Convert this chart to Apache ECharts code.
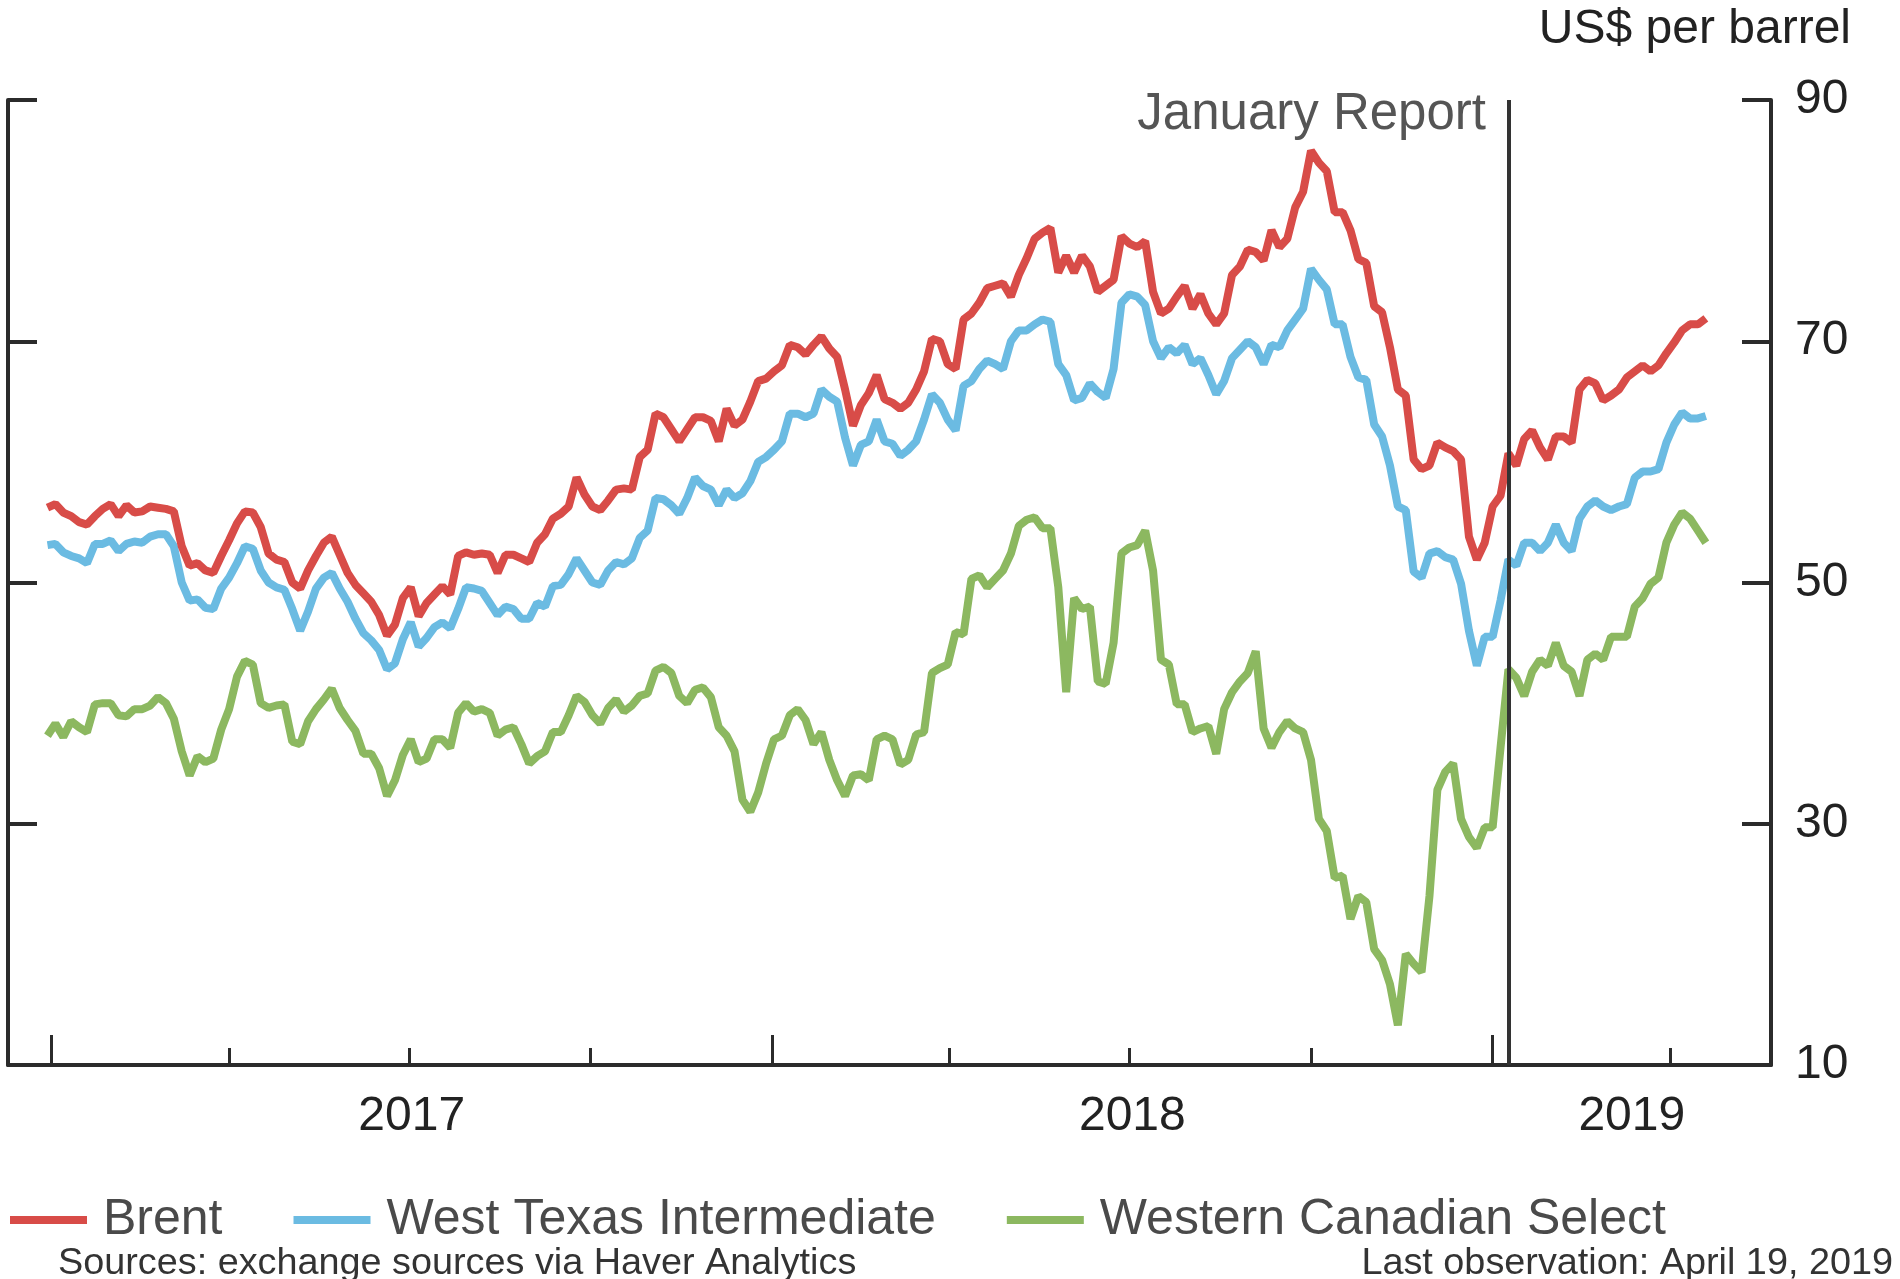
<!DOCTYPE html>
<html>
<head>
<meta charset="utf-8">
<script src="https://cdn.jsdelivr.net/npm/echarts@6/dist/echarts.min.js"></script>
<style>
html,body{margin:0;padding:0;background:#ffffff;}
#chart{width:1900px;height:1279px;}
</style>
</head>
<body>
<div id="chart"></div>
<script>
// ---------------- data ----------------
const seriesNames = ['Brent', 'West Texas Intermediate', 'Western Canadian Select'];
// observations sampled every 4 days, first one on 2016-12-30
const firstDate = '2016-12-30';
const stepDays = 4;

const brent = [
56.2,56.5,55.8,55.5,55.0,54.8,55.5,56.1,56.5,55.5,
56.4,55.8,55.9,56.3,56.2,56.1,55.9,53.0,51.4,51.6,
51.0,50.8,52.2,53.5,54.9,55.9,55.8,54.6,52.4,51.9,
51.7,50.0,49.5,51.0,52.2,53.3,53.8,52.3,50.8,49.8,
49.1,48.4,47.3,45.6,46.5,48.7,49.6,47.2,48.3,49.0,
49.7,49.0,52.2,52.5,
52.3,52.4,52.3,50.8,52.3,52.3,52.0,51.7,53.3,54.0,
55.3,55.7,56.3,58.7,57.3,56.3,56.0,56.8,57.7,57.8,
57.7,60.4,61.0,64.0,63.7,62.7,61.7,62.7,63.7,63.7,
63.4,61.7,64.4,63.0,63.5,65.0,66.7,66.9,67.5,68.0,
69.7,69.5,68.9,69.7,70.4,69.4,68.7,66.0,63.0,64.7,
65.7,67.2,65.2,64.9,
64.4,64.9,66.0,67.5,70.2,70.0,68.1,67.7,71.8,72.3,
73.2,74.4,74.6,74.8,73.7,75.5,76.9,78.5,79.0,79.4,
75.7,77.1,75.7,77.1,76.2,74.1,74.6,75.1,78.7,78.1,
77.8,78.3,74.1,72.3,72.7,73.7,74.6,72.7,73.9,72.3,
71.4,72.3,75.5,76.2,77.6,77.4,76.7,79.2,77.8,78.5,
81.1,82.4,85.8,
84.8,84.1,80.7,80.7,79.2,76.8,76.5,72.9,72.4,69.5,
66.0,65.5,60.2,59.4,59.7,61.6,61.2,60.9,60.2,53.8,
51.9,53.3,56.3,57.2,60.7,59.7,61.9,62.6,61.2,60.2,
62.1,62.1,61.6,66.0,66.8,66.5,65.1,65.5,66.0,67.0,
67.5,68.0,67.5,68.0,69.0,69.9,70.9,71.4,71.4,71.9
];

const wti = [
53.1,53.2,52.5,52.2,52.0,51.6,53.2,53.2,53.5,52.6,
53.2,53.4,53.3,53.8,54.0,54.0,53.0,50.0,48.5,48.6,
47.9,47.8,49.5,50.4,51.6,53.0,52.8,51.0,50.0,49.6,
49.4,47.8,46.0,47.6,49.5,50.4,50.8,49.5,48.4,47.0,
45.8,45.2,44.4,42.8,43.3,45.3,46.7,44.7,45.4,46.3,
46.7,46.2,47.8,49.6,
49.5,49.3,48.3,47.3,48.0,47.8,47.0,47.0,48.3,48.0,
49.7,49.8,50.7,52.0,51.0,50.0,49.8,51.0,51.7,51.5,
52.0,53.7,54.3,57.0,56.9,56.4,55.7,57.0,58.7,58.0,
57.7,56.4,57.7,57.0,57.4,58.4,60.0,60.4,61.0,61.7,
64.0,64.0,63.7,64.0,66.0,65.4,65.0,62.0,59.7,61.4,
61.7,63.5,61.7,61.5,
60.5,61.0,61.7,63.5,65.6,64.9,63.5,62.6,66.3,66.7,
67.7,68.4,68.1,67.7,70.0,70.9,70.9,71.4,71.8,71.6,
68.1,67.2,65.1,65.3,66.5,65.8,65.3,67.7,73.2,73.9,
73.7,73.0,70.0,68.6,69.5,69.0,69.7,68.1,68.6,67.2,
65.6,66.7,68.6,69.3,70.0,69.5,68.1,69.7,69.5,70.9,
71.8,72.7,76.0,
75.1,74.3,71.4,71.4,68.7,67.0,66.8,63.1,62.1,59.7,
56.3,56.0,50.9,50.4,52.4,52.6,52.1,51.9,49.9,46.0,
43.1,45.5,45.5,48.5,51.9,51.4,53.3,53.3,52.6,53.3,
54.8,53.3,52.6,55.3,56.3,56.8,56.3,56.0,56.3,56.5,
58.7,59.2,59.2,59.4,61.6,63.1,64.1,63.6,63.6,63.8
];

const wcs = [
37.3,38.3,37.2,38.5,38.0,37.6,39.9,40.0,40.0,39.0,
38.9,39.5,39.5,39.8,40.5,40.0,38.7,36.0,34.0,35.6,
35.1,35.4,37.8,39.5,42.2,43.5,43.2,40.0,39.6,39.8,
39.9,36.8,36.6,38.5,39.5,40.3,41.2,39.6,38.6,37.7,
35.8,35.8,34.6,32.3,33.6,35.7,37.0,35.1,35.4,37.0,
37.0,36.3,39.2,40.0,
39.3,39.5,39.2,37.3,37.8,38.0,36.6,35.0,35.6,36.0,
37.6,37.6,39.0,40.6,40.1,39.0,38.3,39.6,40.3,39.3,
39.8,40.6,40.8,42.7,43.0,42.5,40.6,40.0,41.1,41.3,
40.5,38.0,37.3,36.0,32.0,31.0,32.6,35.0,37.0,37.3,
39.0,39.5,38.6,36.6,37.6,35.3,33.6,32.3,34.0,34.1,
33.6,37.0,37.3,37.0,
34.9,35.3,37.4,37.6,42.5,42.9,43.2,45.9,45.7,50.3,
50.6,49.6,50.3,51.0,52.4,54.7,55.2,55.4,54.5,54.5,
49.6,40.9,48.7,47.8,48.0,41.8,41.6,45.0,52.4,52.9,
53.1,54.3,51.0,43.6,43.2,39.9,39.9,37.6,37.9,38.1,
35.8,39.5,40.9,41.8,42.5,44.3,37.9,36.3,37.6,38.5,
37.9,37.6,35.3,
30.4,29.4,25.5,25.7,22.1,24.0,23.5,19.6,18.7,16.7,
13.3,19.2,18.4,17.7,24.0,32.8,34.3,35.0,30.4,28.9,
28.0,29.7,29.7,36.3,42.8,42.1,40.6,42.6,43.6,43.1,
45.0,43.1,42.6,40.6,43.6,44.1,43.6,45.5,45.5,45.5,
48.0,48.7,49.9,50.4,53.3,54.8,55.8,55.3,54.3,53.3
];

const yMin = 10, yMax = 90, yStep = 20;
const quarterTicks = ['2017-01-01','2017-04-01','2017-07-01','2017-10-01','2018-01-01',
                      '2018-04-01','2018-07-01','2018-10-01','2019-01-01','2019-04-01'];
const yearTicks = ['2017-01-01','2018-01-01','2019-01-01'];
const yearLabels = [2017, 2018, 2019];
const axisStart = '2016-12-10';
const axisEnd = '2019-05-22';
const reportDate = '2019-01-09';
const reportLabel = 'January Report';
const unitLabel = 'US$ per barrel';
const sourceNote = 'Sources: exchange sources via Haver Analytics';
const lastObsNote = 'Last observation: April 19, 2019';

// ---------------- helpers ----------------
const DAY = 86400000;
function ts(s) { return Date.UTC(+s.slice(0,4), +s.slice(5,7) - 1, +s.slice(8,10)); }
const t0 = ts(firstDate);
function pairs(vals) { return vals.map((v, i) => [t0 + i * stepDays * DAY, v]); }

const xMin = ts(axisStart), xMax = ts(axisEnd);
const yearLabelPos = yearLabels.map(y => {
  const a = Math.max(Date.UTC(y, 0, 1), xMin);
  const b = Math.min(Date.UTC(y + 1, 0, 1), xMax);
  return (a + b) / 2;
});

const FONT = '"Liberation Sans", Arial, Helvetica, sans-serif';
const colors = ['#d84c48', '#6bbbe2', '#8cb860'];
const axisColor = '#2b2b2b';

const chart = echarts.init(document.getElementById('chart'), null, {renderer: 'canvas'});

const option = {
  animation: false,
  backgroundColor: '#ffffff',
  color: colors,
  grid: {left: 8, right: 129, top: 100, bottom: 214, containLabel: false},
  xAxis: [
    {
      type: 'value', min: xMin, max: xMax, position: 'bottom', scale: true,
      axisLine: {show: true, onZero: false, lineStyle: {color: axisColor, width: 4}},
      axisTick: {show: true, inside: true, length: 17, lineStyle: {color: axisColor, width: 3},
                 customValues: quarterTicks.map(ts)},
      axisLabel: {show: true, customValues: yearLabelPos, margin: 28,
                  formatter: v => String(new Date(v).getUTCFullYear()),
                  fontFamily: FONT, fontSize: 48, color: '#222'},
      splitLine: {show: false}
    },
    {
      type: 'value', min: xMin, max: xMax, position: 'bottom', offset: 0, scale: true,
      axisLine: {show: false, onZero: false},
      axisTick: {show: true, inside: true, length: 30, lineStyle: {color: axisColor, width: 3},
                 customValues: yearTicks.map(ts)},
      axisLabel: {show: false},
      splitLine: {show: false}
    }
  ],
  yAxis: [
    {
      type: 'value', position: 'right', min: yMin, max: yMax, interval: yStep,
      axisLine: {show: true, lineStyle: {color: axisColor, width: 4}},
      axisTick: {show: true, inside: true, length: 29, lineStyle: {color: axisColor, width: 4}},
      axisLabel: {show: true, margin: 24, fontFamily: FONT, fontSize: 48, color: '#222'},
      splitLine: {show: false}
    },
    {
      type: 'value', position: 'left', min: yMin, max: yMax, interval: yStep,
      axisLine: {show: true, lineStyle: {color: axisColor, width: 4}},
      axisTick: {show: true, inside: true, length: 29, lineStyle: {color: axisColor, width: 4}},
      axisLabel: {show: false},
      splitLine: {show: false}
    }
  ],
  legend: {
    show: true, left: 10, top: 1195, padding: 0,
    icon: 'rect', itemWidth: 77, itemHeight: 8, itemGap: 71,
    data: seriesNames,
    textStyle: {fontFamily: FONT, fontSize: 50, color: '#4a4a4a', padding: [0, 0, 0, 11]}
  },
  series: [
    {name: seriesNames[0], type: 'line', data: pairs(brent), showSymbol: false, symbol: 'none',
     xAxisIndex: 0, yAxisIndex: 0, z: 3,
     lineStyle: {width: 8, color: colors[0]}, itemStyle: {color: colors[0]}},
    {name: seriesNames[1], type: 'line', data: pairs(wti), showSymbol: false, symbol: 'none',
     xAxisIndex: 0, yAxisIndex: 0, z: 2,
     lineStyle: {width: 8, color: colors[1]}, itemStyle: {color: colors[1]}},
    {name: seriesNames[2], type: 'line', data: pairs(wcs), showSymbol: false, symbol: 'none',
     xAxisIndex: 0, yAxisIndex: 0, z: 4,
     lineStyle: {width: 8, color: colors[2]}, itemStyle: {color: colors[2]},
     markLine: {
       silent: true, symbol: ['none', 'none'], label: {show: false}, animation: false,
       lineStyle: {color: '#333', width: 4, type: 'solid'},
       emphasis: {disabled: true},
       data: [{xAxis: ts(reportDate)}]
     }}
  ],
  graphic: [
    {type: 'text', x: 1851, y: 30, z: 10,
     style: {text: unitLabel, font: '48px ' + FONT, fill: '#222',
             textAlign: 'right', textVerticalAlign: 'middle', align: 'right', verticalAlign: 'middle'}},
    {type: 'text', x: 1486, y: 115, z: 10,
     style: {text: reportLabel, font: '51px ' + FONT, fill: '#555',
             textAlign: 'right', textVerticalAlign: 'middle', align: 'right', verticalAlign: 'middle'}},
    {type: 'text', x: 58, y: 1264, z: 10,
     style: {text: sourceNote, font: '37.8px ' + FONT, fill: '#333',
             textAlign: 'left', textVerticalAlign: 'middle', align: 'left', verticalAlign: 'middle'}},
    {type: 'text', x: 1893, y: 1264, z: 10,
     style: {text: lastObsNote, font: '37.8px ' + FONT, fill: '#333',
             textAlign: 'right', textVerticalAlign: 'middle', align: 'right', verticalAlign: 'middle'}}
  ]
};
chart.setOption(option);
</script>
</body>
</html>
